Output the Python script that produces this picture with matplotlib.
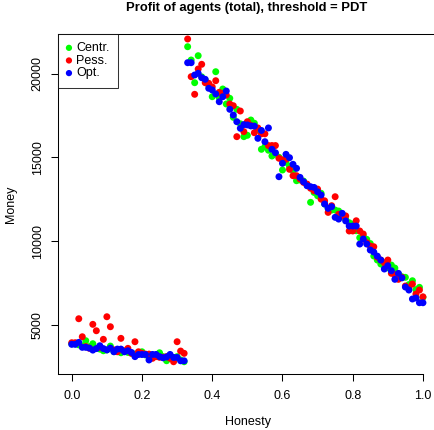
import matplotlib
matplotlib.use("Agg")
import matplotlib.pyplot as plt

plt.rcParams['font.family'] = ['Liberation Sans', 'DejaVu Sans']

# Honesty levels (0.00 .. 1.00 in steps of 0.01)
honesty = [i / 100 for i in range(101)]

# Total profit of agents for each strategy
centr = [
    3870, 3870, 3800, 3750, 4050, 3700, 3870, 3600, 3550, 3450,
    3500, 3730, 3400, 3450, 3330, 3400, 3350, 3300, 3255, 3300,
    3390, 3200, 3150, 3200, 3150, 3330, 3100, 2855, 3000, 3050,
    3100, 2900, 2795,
    21600, 20806, 19451, 21063, 19800, 19600, 19300, 18615, 20107, 18555,
    19075, 18179, 18519, 17385, 17863, 17000, 16230, 16310, 17224, 17030,
    16630, 15475, 15630, 15420, 15075, 15200, 15000, 14240, 14700, 14460,
    14200, 13600, 13642, 13580, 13350, 12311, 12900, 12700, 12850, 12210,
    11950, 11850, 11850, 11790, 11500, 11300, 11093, 11010, 10615, 10197,
    10300, 10100, 9850, 9105, 8866, 8627, 8508, 8400, 8567, 8388,
    8030, 7869, 7833, 7400, 7630, 7100, 7236, 6639,
]
pess = [
    3930, 3930, 5362, 4287, 3700, 3600, 5027, 4645, 3650, 4132,
    5481, 4884, 3500, 3390, 4191, 3450, 3594, 3300, 3990, 3390,
    3300, 3250, 3250, 3000, 3100, 3060, 3060, 3100, 3000, 2795,
    3990, 3433, 3296,
    22060, 19810, 18758, 20269, 20549, 19450, 19415, 19200, 19570, 18878,
    18800, 18716, 18179, 18078, 16230, 17761, 16530, 17123, 16900, 16465,
    16750, 16400, 16400, 15700, 15700, 15700, 14940, 14850, 14880, 14280,
    13900, 13900, 13700, 13500, 13400, 13150, 13000, 13100, 12500, 12400,
    11710, 12110, 12645, 11600, 11500, 11500, 10600, 10600, 11210, 10600,
    10420, 9900, 9700, 9660, 9045, 8866, 8700, 8866, 8072, 8000,
    7714, 7833, 7314, 7200, 7433, 6836, 7075, 6670,
]
opt = [
    3833, 3833, 3950, 3654, 3654, 3610, 3490, 3580, 3750, 3580,
    3500, 3610, 3390, 3550, 3550, 3390, 3450, 3350, 3100, 3225,
    3225, 3225, 2900, 3230, 3230, 3100, 3030, 3080, 3230, 3050,
    3050, 2850, 2850,
    20645, 20645, 19910, 20012, 19750, 19654, 19116, 19015, 18776, 18316,
    18615, 18955, 17863, 17522, 17123, 16730, 16950, 16930, 16870, 16860,
    16130, 16600, 15930, 16750, 15475, 15270, 13840, 14640, 15175, 14975,
    14580, 14340, 13800, 13540, 13300, 13242, 13200, 12940, 12750, 12210,
    11950, 12050, 11415, 11310, 11655, 11200, 10896, 10896, 10896, 9821,
    10120, 9821, 9463, 9340, 9100, 8866, 8329, 8526, 8227, 7714,
    8072, 7800, 7254, 7075, 6540, 6600, 6317, 6317,
]

series = [("Centr.", centr, "#00ff00"),
          ("Pess.", pess, "#ff0000"),
          ("Opt.", opt, "#0000ff")]

x_ticks = [0.0, 0.2, 0.4, 0.6, 0.8, 1.0]
y_ticks = [5000, 10000, 15000, 20000]

W, H = 434, 430
FS = 9.0
fig = plt.figure(figsize=(W / 100, H / 100), dpi=100)
ax = fig.add_axes([57.7 / W, (H - 374) / H, (437 - 57.7) / W, (374 - 34) / H])

for label, vals, col in series:
    ax.scatter(honesty, vals, s=25, color=col, edgecolors='none', label=label,
               zorder=3)

ax.set_xlim(-0.04, 1.04)
ax.set_ylim(2063, 22358)
ax.set_xticks(x_ticks)
ax.set_xticklabels([f"{t:.1f}" for t in x_ticks])
ax.set_yticks(y_ticks)
ax.set_yticklabels([str(t) for t in y_ticks], rotation=90, va='center')

for sp in ax.spines.values():
    sp.set_linewidth(0.75)
    sp.set_color('black')
ax.spines['bottom'].set_bounds(-0.04, 1.0)

ax.tick_params(axis='both', length=5, width=0.75, labelsize=FS, color='black')
ax.tick_params(axis='x', pad=6.5)
ax.tick_params(axis='y', pad=5)

fig.text(247 / W, 1 - 8 / H, "Profit of agents (total), threshold = PDT",
         ha='center', va='center', fontsize=9.4, fontweight='bold')
fig.text(247.5 / W, (H - 421.7) / H, "Honesty", ha='center', va='center',
         fontsize=FS)
fig.text(11 / W, (H - 204) / H, "Money", ha='center', va='center',
         rotation=90, fontsize=FS)

leg = ax.legend(loc='upper left', bbox_to_anchor=(0, 1), borderaxespad=0,
                fontsize=FS, frameon=True, fancybox=False, handlelength=0.5,
                handletextpad=0.35, borderpad=0.65, labelspacing=0.05,
                scatterpoints=1, markerscale=0.9)
leg.get_frame().set_edgecolor('black')
leg.get_frame().set_linewidth(0.75)

fig.savefig("out.png", dpi=100)
